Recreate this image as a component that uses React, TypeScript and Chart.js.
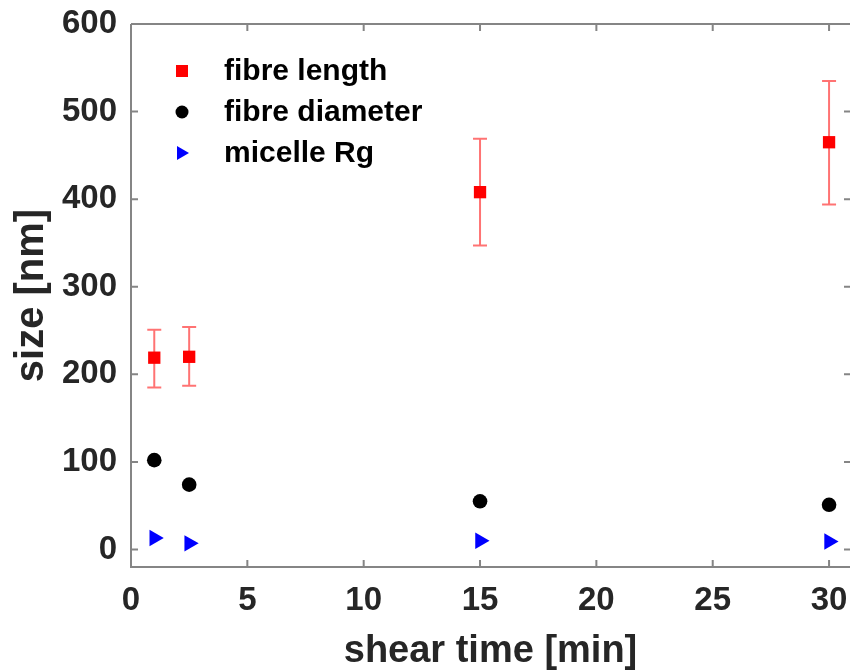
import React, { useEffect, useRef } from "react";
import { Chart, registerables } from "chart.js";

Chart.register(...registerables);

// ---- data ----
const shearTime = [1, 2.5, 15, 30];
const fibreLength = [219, 220, 408, 465];
const fibreLengthLow = [185, 187, 347, 394];
const fibreLengthHigh = [251, 254, 469, 535];
const fibreDiameter = [102, 74, 55, 51];
const micelleRg = [13, 7, 10, 9];
const xTicks = [0, 5, 10, 15, 20, 25, 30];
const yTicks = [0, 100, 200, 300, 400, 500, 600];
const seriesLabels = ["fibre length", "fibre diameter", "micelle Rg"];
const xTitle = "shear time [min]";
const yTitle = "size [nm]";

const FONT = "'Liberation Sans', Arial, Helvetica, sans-serif";
const AXIS_COLOR = "#858585";
const TEXT_COLOR = "#262626";

const errorBarPlugin = {
  id: "errorBars",
  beforeDatasetsDraw(chart: any) {
    const { ctx, scales } = chart;
    const x = scales.x;
    const y = scales.y;
    ctx.save();
    ctx.strokeStyle = "rgba(255,0,0,0.55)";
    ctx.lineWidth = 2;
    shearTime.forEach((t, i) => {
      const px = x.getPixelForValue(t);
      const lo = y.getPixelForValue(fibreLengthLow[i]);
      const hi = y.getPixelForValue(fibreLengthHigh[i]);
      ctx.beginPath();
      ctx.moveTo(px, lo);
      ctx.lineTo(px, hi);
      ctx.moveTo(px - 7, lo);
      ctx.lineTo(px + 7, lo);
      ctx.moveTo(px - 7, hi);
      ctx.lineTo(px + 7, hi);
      ctx.stroke();
    });
    ctx.restore();
  },
};

const framePlugin = {
  id: "frame",
  afterDraw(chart: any) {
    const { ctx, chartArea, scales } = chart;
    const { left, right, top, bottom } = chartArea;
    const x = scales.x;
    const y = scales.y;
    const tl = 7;
    ctx.save();
    ctx.strokeStyle = AXIS_COLOR;
    ctx.lineWidth = 2;
    ctx.beginPath();
    ctx.moveTo(left, top);
    ctx.lineTo(right, top);
    ctx.moveTo(left, top);
    ctx.lineTo(left, bottom);
    ctx.lineTo(right, bottom);
    xTicks.forEach((v) => {
      const px = x.getPixelForValue(v);
      ctx.moveTo(px, bottom);
      ctx.lineTo(px, bottom - tl);
      ctx.moveTo(px, top);
      ctx.lineTo(px, top + tl);
    });
    yTicks.forEach((v) => {
      const py = y.getPixelForValue(v);
      ctx.moveTo(left, py);
      ctx.lineTo(left + tl, py);
      ctx.moveTo(right + 1, py);
      ctx.lineTo(right - tl + 1, py);
    });
    ctx.stroke();
    ctx.restore();
  },
};

const legendPlugin = {
  id: "customLegend",
  afterDraw(chart: any) {
    const { ctx } = chart;
    const markerX = 182;
    const textX = 224;
    const rows = [71, 112, 153];
    ctx.save();
    ctx.font = `bold 30px ${FONT}`;
    ctx.textBaseline = "middle";
    ctx.textAlign = "left";
    chart.data.datasets.forEach((ds: any, i: number) => {
      const cy = rows[i];
      ctx.fillStyle = ds.backgroundColor;
      ctx.beginPath();
      if (i === 0) {
        ctx.rect(markerX - 6, cy - 6, 12, 12);
      } else if (i === 1) {
        ctx.arc(markerX, cy, 6.5, 0, Math.PI * 2);
      } else {
        ctx.moveTo(markerX + 7, cy);
        ctx.lineTo(markerX - 5, cy - 7);
        ctx.lineTo(markerX - 5, cy + 7);
        ctx.closePath();
      }
      ctx.fill();
      ctx.fillStyle = "#000000";
      ctx.fillText(seriesLabels[i], textX, cy + 1);
    });
    ctx.restore();
  },
};

export default function App() {
  const canvasRef = useRef<HTMLCanvasElement | null>(null);

  useEffect(() => {
    if (!canvasRef.current) return;
    const chart = new Chart(canvasRef.current, {
      type: "scatter",
      data: {
        datasets: [
          {
            label: seriesLabels[0],
            data: shearTime.map((t, i) => ({ x: t, y: fibreLength[i] })),
            backgroundColor: "#ff0000",
            borderColor: "#ff0000",
            pointStyle: "rect",
            pointRadius: 8.7,
            borderWidth: 0,
            clip: false as any,
          },
          {
            label: seriesLabels[1],
            data: shearTime.map((t, i) => ({ x: t, y: fibreDiameter[i] })),
            backgroundColor: "#000000",
            borderColor: "#000000",
            pointStyle: "circle",
            pointRadius: 7.3,
            borderWidth: 0,
            clip: false as any,
          },
          {
            label: seriesLabels[2],
            data: shearTime.map((t, i) => ({ x: t, y: micelleRg[i] })),
            backgroundColor: "#0000ff",
            borderColor: "#0000ff",
            pointStyle: "triangle",
            rotation: 90,
            pointRadius: 9.5,
            borderWidth: 0,
            clip: false as any,
          },
        ],
      },
      options: {
        animation: false,
        responsive: false,
        layout: { autoPadding: false, padding: { top: 24, left: 0, right: 0, bottom: 0 } },
        plugins: {
          legend: { display: false },
          tooltip: { enabled: false },
        },
        scales: {
          x: {
            type: "linear",
            min: 0,
            max: 30.9,
            grid: { display: false, drawTicks: false },
            border: { display: false },
            afterBuildTicks: (scale: any) => {
              scale.ticks = xTicks.map((v) => ({ value: v }));
            },
            afterFit: (scale: any) => {
              scale.height = 103;
              scale.paddingLeft = 0;
              scale.paddingRight = 0;
            },
            ticks: {
              color: TEXT_COLOR,
              font: { family: FONT, size: 33, weight: "bold" },
              padding: 14,
              maxRotation: 0,
              autoSkip: false,
            },
            title: {
              display: true,
              text: xTitle,
              color: TEXT_COLOR,
              font: { family: FONT, size: 38, weight: "bold" },
              padding: { top: 0, bottom: -4 },
            },
          },
          y: {
            type: "linear",
            min: -20,
            max: 600,
            grid: { display: false, drawTicks: false },
            border: { display: false },
            afterBuildTicks: (scale: any) => {
              scale.ticks = yTicks.map((v) => ({ value: v }));
            },
            afterFit: (scale: any) => {
              scale.width = 131;
              scale.paddingTop = 0;
              scale.paddingBottom = 0;
            },
            ticks: {
              color: TEXT_COLOR,
              font: { family: FONT, size: 33, weight: "bold" },
              padding: 14,
              autoSkip: false,
            },
            title: {
              display: true,
              text: yTitle,
              color: TEXT_COLOR,
              font: { family: FONT, size: 40, weight: "bold" },
              padding: { top: 8, bottom: 0 },
            },
          },
        },
      },
      plugins: [errorBarPlugin, framePlugin, legendPlugin],
    });
    return () => chart.destroy();
  }, []);

  return (
    <div
      style={{
        position: "absolute",
        left: 0,
        top: 0,
        width: 850,
        height: 670,
        overflow: "hidden",
        background: "#ffffff",
      }}
    >
      <canvas ref={canvasRef} width={850} height={670} style={{ display: "block" }} />
    </div>
  );
}
